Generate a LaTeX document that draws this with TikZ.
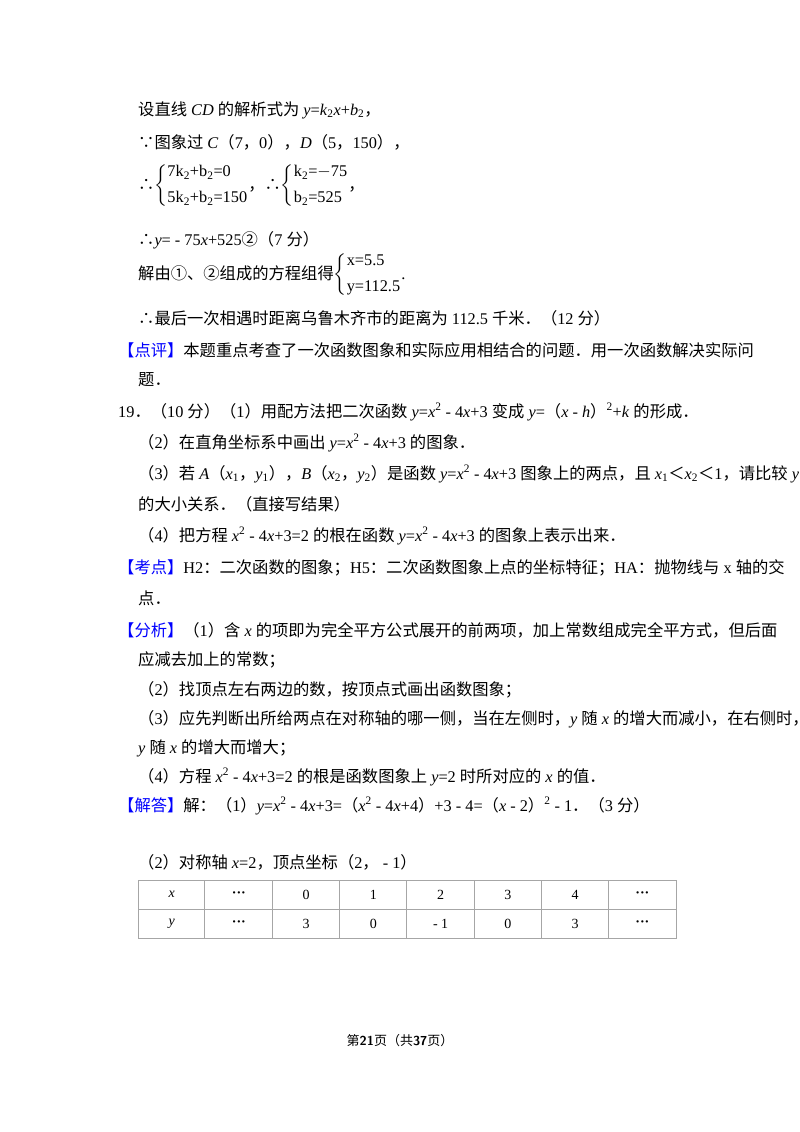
\documentclass[tikz,border=0pt]{standalone}
\usepackage{amsmath}
\usepackage{fontspec}
\setmainfont{Liberation Serif}
\newfontfamily\cjk{Noto Sans CJK SC}
\newcommand\zh[1]{{\cjk #1}}
\newcommand\I[1]{\textit{#1}}
\newcommand\hd[1]{{\color{blue}\cjk 【#1】}}
\newcommand\sq{\textsuperscript{2}}
\newcommand\sysb[2]{$\left\{\begin{array}{@{}l@{}}\text{#1}\\[7pt] \text{#2}\end{array}\right.$}
\begin{document}
\begin{tikzpicture}[x=1pt,y=-1pt,
  t/.style={anchor=west,inner sep=0pt,font=\fontsize{16.3}{19}\selectfont},
  c/.style={inner sep=0pt,font=\fontsize{14}{16}\selectfont}]
\useasboundingbox (0,0) rectangle (800,1132);
\node[t] (l1) at (138,110) {\zh{设直线} \I{CD} \zh{的解析式为} \I{y}=\I{k}\textsubscript{2}\I{x}+\I{b}\textsubscript{2}\zh{，}};
\node[t] (l2) at (138,142) {\zh{∵图象过} \I{C}\zh{（}7\zh{，}0\zh{），}\I{D}\zh{（}5\zh{，}150\zh{），}};
\node[t] (l3) at (138,186) {\zh{∴}\sysb{7k\textsubscript{2}+b\textsubscript{2}=0}{5k\textsubscript{2}+b\textsubscript{2}=150}\zh{，∴}\sysb{k\textsubscript{2}=$-$75}{b\textsubscript{2}=525}\zh{，}};
\node[t] (l4) at (138,240) {\zh{∴}\I{y}= - 75\I{x}+525\zh{②（}7 \zh{分）}};
\node[t] (l5) at (138,275) {\zh{解由①、②组成的方程组得}\sysb{x=5.5}{y=112.5}.};
\node[t] (l6) at (138,318) {\zh{∴最后一次相遇时距离乌鲁木齐市的距离为} 112.5 \zh{千米．（}12 \zh{分）}};
\node[t] (l7) at (118,350) {\hd{点评}\zh{本题重点考查了一次函数图象和实际应用相结合的问题．用一次函数解决实际问}};
\node[t] (l8) at (138,380) {\zh{题．}};
\node[t] (l9) at (118,412) {19\zh{．（}10 \zh{分）（}1\zh{）用配方法把二次函数} \I{y}=\I{x}\sq\ - 4\I{x}+3 \zh{变成} \I{y}=\zh{（}\I{x} - \I{h}\zh{）}\sq+\I{k} \zh{的形成．}};
\node[t] (l10) at (138,443) {\zh{（}2\zh{）在直角坐标系中画出} \I{y}=\I{x}\sq\ - 4\I{x}+3 \zh{的图象．}};
\node[t] (l11) at (138,474) {\zh{（}3\zh{）若} \I{A}\zh{（}\I{x}\textsubscript{1}\zh{，}\I{y}\textsubscript{1}\zh{），}\I{B}\zh{（}\I{x}\textsubscript{2}\zh{，}\I{y}\textsubscript{2}\zh{）是函数} \I{y}=\I{x}\sq\ - 4\I{x}+3 \zh{图象上的两点，且} \I{x}\textsubscript{1}\zh{＜}\I{x}\textsubscript{2}\zh{＜}1\zh{，请比较} \I{y}\textsubscript{1}\zh{，}\I{y}\textsubscript{2}};
\node[t] (l12) at (138,504) {\zh{的大小关系．（直接写结果）}};
\node[t] (l13) at (138,536) {\zh{（}4\zh{）把方程} \I{x}\sq\ - 4\I{x}+3=2 \zh{的根在函数} \I{y}=\I{x}\sq\ - 4\I{x}+3 \zh{的图象上表示出来．}};
\node[t] (l14) at (118,568) {\hd{考点}H2\zh{：二次函数的图象；}H5\zh{：二次函数图象上点的坐标特征；}HA\zh{：抛物线与} x \zh{轴的交}};
\node[t] (l15) at (138,598) {\zh{点．}};
\node[t] (l16) at (118,630) {\hd{分析}\zh{（}1\zh{）含} \I{x} \zh{的项即为完全平方公式展开的前两项，加上常数组成完全平方式，但后面}};
\node[t] (l17) at (138,660) {\zh{应减去加上的常数；}};
\node[t] (l18) at (138,690) {\zh{（}2\zh{）找顶点左右两边的数，按顶点式画出函数图象；}};
\node[t] (l19) at (138,719) {\zh{（}3\zh{）应先判断出所给两点在对称轴的哪一侧，当在左侧时，}\I{y} \zh{随} \I{x} \zh{的增大而减小，在右侧时，}};
\node[t] (l20) at (138,748) {\I{y} \zh{随} \I{x} \zh{的增大而增大；}};
\node[t] (l21) at (138,777) {\zh{（}4\zh{）方程} \I{x}\sq\ - 4\I{x}+3=2 \zh{的根是函数图象上} \I{y}=2 \zh{时所对应的} \I{x} \zh{的值．}};
\node[t] (l22) at (118,806) {\hd{解答}\zh{解：（}1\zh{）}\I{y}=\I{x}\sq\ - 4\I{x}+3=\zh{（}\I{x}\sq\ - 4\I{x}+4\zh{）}+3 - 4=\zh{（}\I{x} - 2\zh{）}\sq\ - 1\zh{．（}3 \zh{分）}};
\node[t] (l23) at (138,862) {\zh{（}2\zh{）对称轴} \I{x}=2\zh{，顶点坐标（}2\zh{，} - 1\zh{）}};
% table
\draw[gray!70,line width=0.8pt] (138,880) rectangle (676,938);
\draw[gray!70,line width=0.8pt] (138,909) -- (676,909);
\foreach \xx in {204,272,339,406,474,541,608}
  \draw[gray!70,line width=0.8pt] (\xx,880) -- (\xx,938);
\foreach \v [count=\i] in {\I{x},\textbf{···},0,1,2,3,4,\textbf{···}}
  \node[c] (tx\i) at ({138+(\i-0.5)*538/8},894.5) {\v};
\foreach \v [count=\i] in {\I{y},\textbf{···},3,0,- 1,0,3,\textbf{···}}
  \node[c] (ty\i) at ({138+(\i-0.5)*538/8},923.5) {\v};
\node[inner sep=0pt,font=\fontsize{13}{15}\selectfont] (ft) at (400,1041) {\zh{第}\textbf{\sffamily 21}\zh{页（共}\textbf{\sffamily 37}\zh{页）}};
\end{tikzpicture}
\end{document}
